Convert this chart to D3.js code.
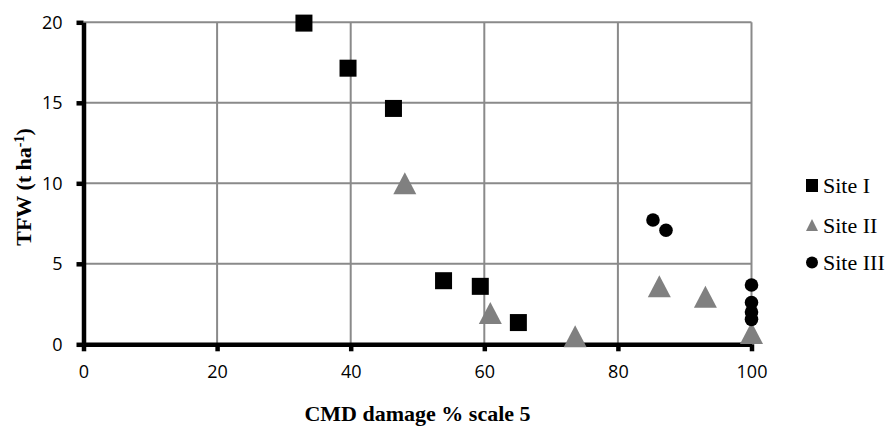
<!DOCTYPE html>
<html>
<head>
<meta charset="utf-8">
<script src="https://cdn.jsdelivr.net/npm/d3@7"></script>
<style>
  body { margin: 0; background: #fff; }
  svg { display: block; }
</style>
</head>
<body>
<div id="chart"></div>
<script>
(function () {
  'use strict';

  // data
  var siteI = [
    { x: 33.0, y: 19.95 }, { x: 39.6, y: 17.15 }, { x: 46.4, y: 14.65 },
    { x: 53.9, y: 3.95 }, { x: 59.4, y: 3.6 }, { x: 65.1, y: 1.35 }
  ];
  var siteII = [
    { x: 48.1, y: 10.0 }, { x: 60.9, y: 1.95 }, { x: 73.6, y: 0.5 },
    { x: 86.2, y: 3.6 }, { x: 93.1, y: 2.95 }, { x: 100, y: 0.7 }
  ];
  var siteIII = [
    { x: 85.25, y: 7.72 }, { x: 87.2, y: 7.08 }, { x: 100, y: 3.68 },
    { x: 100, y: 2.6 }, { x: 100, y: 2.0 }, { x: 100, y: 1.55 }
  ];
  var xTicks = [0, 20, 40, 60, 80, 100];
  var yTicks = [0, 5, 10, 15, 20];
  var legendLabels = ['Site I', 'Site II', 'Site III'];

  var svg_width = 890, svg_height = 426;
  var margin = { top: 22.3, left: 83.5 };
  var width = 668, height = 322;

  var svg = d3.select('#chart').append('svg')
    .attr('width', svg_width)
    .attr('height', svg_height);

  var xScale = d3.scaleLinear().domain([0, 100]).range([0, width]);
  var yScale = d3.scaleLinear().domain([0, 20]).range([height, 0]);

  var g = svg.append('g')
    .attr('transform', 'translate(' + margin.left + ',' + margin.top + ')');

  // grid lines
  g.append('g').selectAll('line.hgrid')
    .data(yTicks.filter(function(d) { return d > 0; }))
    .enter().append('line')
    .attr('x1', 0).attr('x2', width)
    .attr('y1', function(d) { return yScale(d); })
    .attr('y2', function(d) { return yScale(d); })
    .attr('stroke', '#8a8a8a').attr('stroke-width', 2);

  g.append('g').selectAll('line.vgrid')
    .data(xTicks.filter(function(d) { return d > 0; }))
    .enter().append('line')
    .attr('x1', function(d) { return xScale(d); })
    .attr('x2', function(d) { return xScale(d); })
    .attr('y1', 0).attr('y2', height)
    .attr('stroke', '#8a8a8a').attr('stroke-width', 2);

  // axes
  var yAxis = d3.axisLeft(yScale).tickValues(yTicks).tickSizeInner(7).tickSizeOuter(0).tickPadding(14);
  var xAxis = d3.axisBottom(xScale).tickValues(xTicks).tickSizeInner(7).tickSizeOuter(0).tickPadding(14);

  var yG = g.append('g').call(yAxis);
  var xG = g.append('g').attr('transform', 'translate(0,' + height + ')').call(xAxis);

  [yG, xG].forEach(function(ax) {
    ax.select('.domain').attr('stroke', '#000').attr('stroke-width', 4.5);
    ax.selectAll('.tick line').attr('stroke', '#000').attr('stroke-width', 4.5);
    ax.selectAll('.tick text')
      .attr('fill', '#000')
      .style('font-family', '"Open Sans", "Noto Sans", sans-serif')
      .style('font-size', '18px');
  });

  // markers
  var sq = 17;
  g.selectAll('rect.s1')
    .data(siteI)
    .enter().append('rect')
    .attr('x', function(d) { return xScale(d.x) - sq / 2; })
    .attr('y', function(d) { return yScale(d.y) - sq / 2; })
    .attr('width', sq).attr('height', sq)
    .attr('fill', '#000');

  function triPath(cx, cy, w, h) {
    return 'M' + cx + ',' + (cy - h / 2) + 'L' + (cx + w / 2) + ',' + (cy + h / 2) +
      'L' + (cx - w / 2) + ',' + (cy + h / 2) + 'Z';
  }

  g.selectAll('path.s2')
    .data(siteII)
    .enter().append('path')
    .attr('d', function(d) { return triPath(xScale(d.x), yScale(d.y), 23, 22); })
    .attr('fill', '#808080');

  g.selectAll('circle.s3')
    .data(siteIII)
    .enter().append('circle')
    .attr('cx', function(d) { return xScale(d.x); })
    .attr('cy', function(d) { return yScale(d.y); })
    .attr('r', 6.8)
    .attr('fill', '#000');

  // axis titles
  svg.append('text')
    .attr('x', margin.left + width / 2)
    .attr('y', 421)
    .attr('text-anchor', 'middle')
    .style('font-family', '"Liberation Serif", "Times New Roman", serif')
    .style('font-weight', 'bold')
    .style('font-size', '22px')
    .text('CMD damage % scale 5');

  var yt = svg.append('text')
    .attr('transform', 'rotate(-90)')
    .attr('x', -187)
    .attr('y', 31)
    .attr('text-anchor', 'middle')
    .style('font-family', '"Liberation Serif", "Times New Roman", serif')
    .style('font-weight', 'bold')
    .style('font-size', '22px');
  yt.append('tspan').text('TFW (t ha');
  yt.append('tspan').attr('dy', -7).style('font-size', '14px').text('-1');
  yt.append('tspan').attr('dy', 7).text(')');

  // legend
  var legend = svg.append('g').attr('transform', 'translate(812,0)');
  var rows = [185.5, 225, 262.5];
  legendLabels.forEach(function(lbl, i) {
    var row = legend.append('g').attr('transform', 'translate(0,' + rows[i] + ')');
    if (i === 0) {
      row.append('rect').attr('x', -6).attr('y', -6.5).attr('width', 12).attr('height', 13).attr('fill', '#000');
    } else if (i === 1) {
      row.append('path').attr('d', triPath(0, 0, 12, 12)).attr('fill', '#808080');
    } else {
      row.append('circle').attr('r', 6).attr('fill', '#000');
    }
    row.append('text')
      .attr('x', 11)
      .attr('y', 7.5)
      .style('font-family', '"Liberation Serif", "Times New Roman", serif')
      .style('font-size', '22px')
      .text(lbl);
  });
}());
</script>
</body>
</html>
